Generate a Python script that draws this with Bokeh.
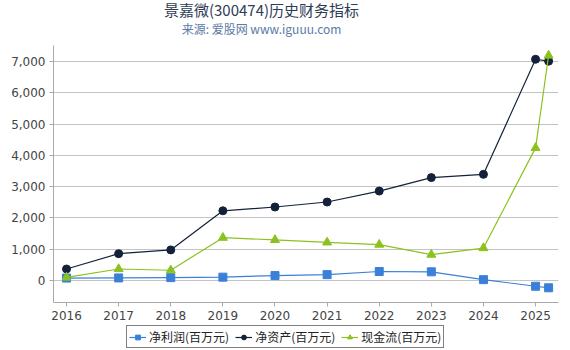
from bokeh.plotting import figure
from bokeh.layouts import column
from bokeh.models import Label, Legend, LegendItem, FixedTicker, NumeralTickFormatter, Range1d
from bokeh.embed import file_html
from bokeh.resources import INLINE

years = [2016, 2017, 2018, 2019, 2020, 2021, 2022, 2023, 2024, 2025, 2025.25]
net_profit = [80, 85, 95, 110, 160, 190, 290, 280, 30, -180, -230]
net_assets = [370, 860, 980, 2230, 2350, 2510, 2860, 3290, 3395, 7070, 7010]
cash_flow = [100, 370, 330, 1370, 1300, 1220, 1150, 830, 1040, 4240, 7190]
x_ticks = [2016, 2017, 2018, 2019, 2020, 2021, 2022, 2023, 2024, 2025]
y_ticks = [0, 1000, 2000, 3000, 4000, 5000, 6000, 7000]

title_text = "景嘉微(300474)历史财务指标"
subtitle_text = "来源: 爱股网 www.iguuu.com"
names = ["净利润(百万元)", "净资产(百万元)", "现金流(百万元)"]

FONT = "Noto Sans CJK SC"
TICK_FONT = "DejaVu Sans"
c1, c2, c3 = "#3a80d8", "#13223a", "#8cc21f"


def blank_fig(h, xr=(0, 1), yr=(0, 1)):
    f = figure(width=570, height=h, output_backend="svg", toolbar_location=None,
               x_range=Range1d(*xr), y_range=Range1d(*yr),
               x_axis_location=None, y_axis_location=None,
               min_border=0, min_border_left=0, min_border_right=0,
               min_border_top=0, min_border_bottom=0)
    f.outline_line_color = None
    f.grid.grid_line_color = None
    f.background_fill_color = "white"
    f.border_fill_color = "white"
    return f


# ---- title strip ----
tf = blank_fig(45)
tf.add_layout(Label(x=208, y=36, x_units="screen", y_units="screen", text=title_text,
                    text_font=FONT, text_font_size="15px", text_color="#2e3d55",
                    text_align="center", text_baseline="middle"))
tf.add_layout(Label(x=208, y=17, x_units="screen", y_units="screen", text=subtitle_text,
                    text_font=FONT, text_font_size="12px", text_color="#5b7aa5",
                    text_align="center", text_baseline="middle"))

# ---- main chart ----
p = figure(width=570, height=277, output_backend="svg", toolbar_location=None,
           x_range=Range1d(2015.75, 2025.44), y_range=Range1d(-700, 7510),
           min_border_left=53, min_border_right=12, min_border_top=0, min_border_bottom=19)
p.outline_line_color = None
p.background_fill_color = "white"
p.border_fill_color = "white"

p.xgrid.grid_line_color = None
p.ygrid.grid_line_color = "#c4c4c4"
p.ygrid.grid_line_width = 1

p.xaxis.ticker = FixedTicker(ticks=x_ticks)
p.yaxis.ticker = FixedTicker(ticks=y_ticks)
p.yaxis.formatter = NumeralTickFormatter(format="0,0")
for ax in (p.xaxis, p.yaxis):
    ax.axis_line_color = "#aaaaaa"
    ax.major_label_text_font = TICK_FONT
    ax.major_label_text_font_size = "12px"
    ax.major_label_text_color = "#444444"
    ax.minor_tick_line_color = None
    ax.major_tick_line_color = "#aaaaaa"
    ax.major_tick_in = 0
    ax.major_tick_out = 4
p.xaxis.major_label_standoff = 4
p.yaxis.major_label_standoff = 4

series = [(net_profit, c1, "square", 8), (net_assets, c2, "circle", 8), (cash_flow, c3, "triangle", 9)]
for vals, col, mk, sz in series:
    p.line(years, vals, line_color=col, line_width=1.2)
    p.scatter(years, vals, marker=mk, size=sz, fill_color=col, line_color=col)

# ---- legend strip (same series, out of its visible range) ----
lg = blank_fig(28)
items = []
for (vals, col, mk, sz), name in zip(series, names):
    r1 = lg.line(years, vals, line_color=col, line_width=1.2)
    r2 = lg.scatter(years, vals, marker=mk, size=sz, fill_color=col, line_color=col)
    items.append(LegendItem(label=name, renderers=[r1, r2]))

legend = Legend(items=items, orientation="horizontal", location=(73, 2),
                border_line_color="black", border_line_width=1.2,
                label_text_font=FONT, label_text_font_size="12px", label_text_color="#222222",
                glyph_width=17, glyph_height=12, spacing=6, padding=2, margin=0,
                label_standoff=3, background_fill_alpha=1, label_height=14)
lg.add_layout(legend, "center")

layout = column(tf, p, lg, spacing=0)
open("out.html", "w").write(file_html(layout, INLINE))
